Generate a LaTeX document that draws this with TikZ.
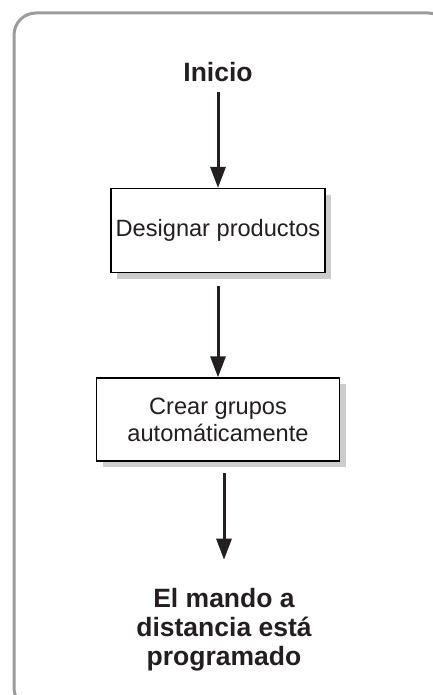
\documentclass[tikz,border=0pt]{standalone}
\usepackage{fontspec}
\setmainfont{Liberation Sans}
\usepackage{xcolor}
\usepackage{tikz}
\usetikzlibrary{positioning,arrows.meta,calc,shadows}

\definecolor{framegray}{HTML}{9C9C9E}
\definecolor{inkgray}{HTML}{231F20}

\begin{document}
\begin{tikzpicture}[
    term/.style={inner sep=0pt, align=center, text=inkgray, font=\fontsize{26.5}{29}\selectfont\bfseries},
    stepbox/.style={rectangle, draw=black, line width=1.4pt, fill=white, align=center, text=inkgray,
        font=\fontsize{23.6}{27}\selectfont,
        drop shadow={shadow xshift=6pt, shadow yshift=-6pt, fill=black!20, opacity=1}},
    arrow/.style={-{Triangle[length=21pt, width=15pt]}, line width=3pt, draw=inkgray},
    frame/.style={draw=framegray, line width=3pt, rounded corners=22pt}
]

\useasboundingbox (0,0) rectangle (433pt,-695pt);
\clip (0,0) rectangle (433pt,-695pt);

% Outer frame
\draw[frame] (14pt,-13pt) rectangle (450pt,-710pt);

% Nodes
\node[term] (start) at (218pt,-72pt) {Inicio};
\node[stepbox, minimum width=214pt, minimum height=84pt, below=106pt of start] (box1) {Designar productos};
\node[stepbox, minimum width=243pt, minimum height=83pt, below=104pt of box1] (box2) {Crear grupos\\automáticamente};
\node[term, below=126pt of box2, xshift=6pt] (done) {El mando a\\distancia está\\programado};

% Arrows
\draw[arrow] ($(start.south)+(0,-10pt)$) -- (box1.north);
\draw[arrow] ($(box1.south)+(0,-13pt)$) -- (box2.north);
\draw[arrow] ($(box2.south -| done.north)+(0,-11pt)$) -- ($(done.north)+(0,28pt)$);

\end{tikzpicture}
\end{document}
